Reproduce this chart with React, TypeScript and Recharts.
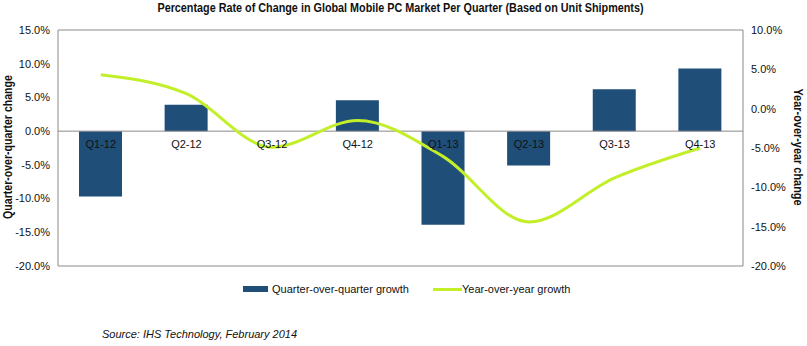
import React from "react";
import { ComposedChart, Bar, Line, XAxis, YAxis, ReferenceLine } from "recharts";

const quarters = ["Q1-12", "Q2-12", "Q3-12", "Q4-12", "Q1-13", "Q2-13", "Q3-13", "Q4-13"];
const qoqGrowth = [-9.7, 3.9, 0, 4.6, -13.9, -5.1, 6.2, 9.3];
const yoyGrowth = [4.3, 1.9, -4.9, -1.5, -6.1, -14.4, -8.8, -5.0];
const leftTicks = [15, 10, 5, 0, -5, -10, -15, -20];
const rightTicks = [10, 5, 0, -5, -10, -15, -20];

const data = quarters.map((q, i) => ({ q, qoq: qoqGrowth[i], yoy: yoyGrowth[i] }));

const W = 807;
const H = 346;
const M = { top: 30, right: 0, bottom: 60, left: 0 };
const XH = 20;
const plotH = H - M.top - M.bottom - XH;
const zeroY = M.top + (plotH * 15) / 35;

const FONT = "'Liberation Sans', Arial, sans-serif";
const BAR = "#1f4e79";
const LINE = "#c2ef2a";
const AXIS = "#8a8a8a";

const pct = (v: number) => v.toFixed(1) + "%";

const CatTick = (props: any) => {
  const { x, payload } = props;
  return (
    <text x={x} y={zeroY + 17} textAnchor="middle" fontSize={11} fontFamily={FONT} fill="#111">
      {payload.value}
    </text>
  );
};

export default function App() {
  return (
    <div style={{ position: "absolute", left: 0, top: 0, width: W, height: H, background: "#fff", fontFamily: FONT }}>
      <div style={{ position: "absolute", left: 0, width: W - 6, top: 1, textAlign: "center", fontWeight: "bold", fontSize: 12, color: "#111", transform: "scaleX(0.9)", transformOrigin: "center" }}>
        Percentage Rate of Change in Global Mobile PC Market Per Quarter (Based on Unit Shipments)
      </div>
      <ComposedChart width={W} height={H} data={data} margin={M} barCategoryGap="49%">
        <XAxis dataKey="q" height={XH} axisLine={false} tickLine={false} tick={<CatTick />} interval={0} />
        <YAxis
          yAxisId="left"
          width={58}
          domain={[-20, 15]}
          ticks={leftTicks}
          tickFormatter={pct}
          tickLine={false}
          axisLine={{ stroke: AXIS }}
          tick={{ fontSize: 11, fontFamily: FONT, fill: "#111" }}
          interval={0}
        />
        <YAxis
          yAxisId="right"
          orientation="right"
          width={64}
          domain={[-20, 10]}
          ticks={rightTicks}
          tickFormatter={pct}
          tickLine={false}
          axisLine={{ stroke: AXIS }}
          tick={{ fontSize: 11, fontFamily: FONT, fill: "#111", textAnchor: "start" }}
          interval={0}
        />
        <ReferenceLine yAxisId="left" y={15} stroke={AXIS} />
        <ReferenceLine yAxisId="left" y={-20} stroke={AXIS} />
        <ReferenceLine yAxisId="left" y={0} stroke={AXIS} />
        <Bar yAxisId="left" dataKey="qoq" fill={BAR} barSize={43} isAnimationActive={false} />
        <Line yAxisId="right" dataKey="yoy" type="monotone" stroke={LINE} strokeWidth={3} dot={false} isAnimationActive={false} />
      </ComposedChart>
      <div style={{ position: "absolute", left: 8, top: 147, width: 0, height: 0 }}>
        <div style={{ position: "absolute", left: 0, top: 0, transform: "translate(-50%, -50%) rotate(-90deg) scaleX(0.88)", whiteSpace: "nowrap", fontWeight: "bold", fontSize: 12, color: "#111" }}>
          Quarter-over-quarter change
        </div>
      </div>
      <div style={{ position: "absolute", left: 798, top: 147, width: 0, height: 0 }}>
        <div style={{ position: "absolute", left: 0, top: 0, transform: "translate(-50%, -50%) rotate(90deg) scaleX(0.91)", whiteSpace: "nowrap", fontWeight: "bold", fontSize: 12, color: "#111" }}>
          Year-over-year change
        </div>
      </div>
      <div style={{ position: "absolute", left: 243, top: 283, fontSize: 11, color: "#111", display: "flex", alignItems: "center" }}>
        <span style={{ display: "inline-block", width: 25, height: 6, background: BAR, marginRight: 4 }} />
        <span>Quarter-over-quarter growth</span>
        <span style={{ display: "inline-block", width: 29, height: 3, background: LINE, marginLeft: 24 }} />
        <span>Year-over-year growth</span>
      </div>
      <div style={{ position: "absolute", left: 102, top: 328, fontSize: 11, fontStyle: "italic", color: "#111" }}>
        Source: IHS Technology, February 2014
      </div>
    </div>
  );
}
